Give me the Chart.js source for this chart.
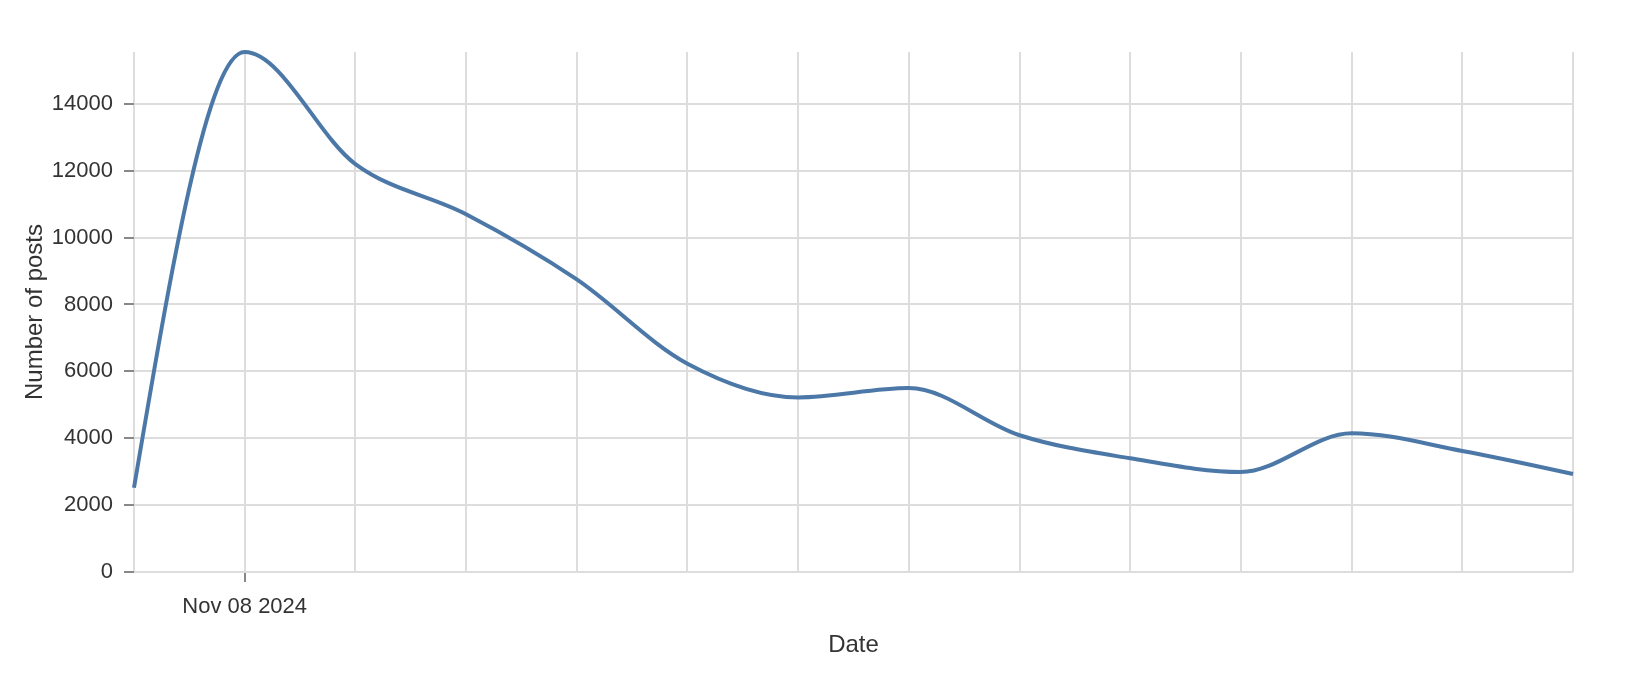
<!DOCTYPE html>
<html>
<head>
<meta charset="utf-8">
<script src="https://cdn.jsdelivr.net/npm/chart.js@4"></script>
<style>
    html, body { margin: 0; padding: 0; background: #fff; }
    #wrap { width: 1650px; height: 680px; }
</style>
</head>
<body>
<div id="wrap"><canvas id="postsChart" width="1650" height="680"></canvas></div>
<script>
// daily post counts
const dates = ['Nov 07 2024', 'Nov 08 2024', 'Nov 09 2024', 'Nov 10 2024', 'Nov 11 2024', 'Nov 12 2024', 'Nov 13 2024',
    'Nov 14 2024', 'Nov 15 2024', 'Nov 16 2024', 'Nov 17 2024', 'Nov 18 2024', 'Nov 19 2024', 'Nov 20 2024'];
const posts = [2520, 15550, 12200, 10700, 8750, 6230, 5220, 5500, 4090, 3400, 2990, 4150, 3620, 2930];
const shownDates = ['Nov 08 2024']; // only label the axis shows
const yTicks = [0, 2000, 4000, 6000, 8000, 10000, 12000, 14000];

const FONT = "'Liberation Sans', Arial, Helvetica, sans-serif";
const TEXT = '#333';

// d3-style monotoneX tangents, so the curve bends like the original
const monotoneX = {
    id: 'monotoneX',
    beforeDatasetDraw(chart, args) {
        const line = args.meta.dataset;
        const pts = args.meta.data;
        if (!line || pts.length < 3) return;
        line.updateControlPoints(chart.chartArea, 'x');
        const n = pts.length;
        const sec = [];
        for (let i = 0; i < n - 1; i++) sec.push((pts[i + 1].y - pts[i].y) / (pts[i + 1].x - pts[i].x));
        const t = new Array(n).fill(0);
        for (let i = 1; i < n - 1; i++) {
            const s0 = sec[i - 1], s1 = sec[i];
            const p = (s0 + s1) / 2;
            t[i] = (Math.sign(s0) + Math.sign(s1)) * Math.min(Math.abs(s0), Math.abs(s1), 0.5 * Math.abs(p)) || 0;
        }
        t[0] = (3 * sec[0] - t[1]) / 2;
        t[n - 1] = (3 * sec[n - 2] - t[n - 2]) / 2;
        for (let i = 0; i < n - 1; i++) {
            const dx = (pts[i + 1].x - pts[i].x) / 3;
            pts[i].cp2x = pts[i].x + dx;
            pts[i].cp2y = pts[i].y + dx * t[i];
            pts[i + 1].cp1x = pts[i + 1].x - dx;
            pts[i + 1].cp1y = pts[i + 1].y - dx * t[i + 1];
        }
        line._path = undefined;
    }
};

document.addEventListener("DOMContentLoaded", () => {
    const ctx = document.getElementById('postsChart');

    new Chart(ctx, {
        type: 'line',
        data: {
            labels: dates,
            datasets: [{
                label: 'Number of posts',
                data: posts,
                borderColor: '#4c78a8',
                borderWidth: 4,
                pointRadius: 0,
                cubicInterpolationMode: 'monotone',
                capBezierPoints: false,
                clip: false,
                fill: false
            }]
        },
        options: {
            responsive: false,
            animation: false,
            devicePixelRatio: 1,
            layout: { padding: { top: 52, right: 77, left: 0, bottom: 0 } },
            plugins: { legend: { display: false }, tooltip: { enabled: false } },
            scales: {
                x: {
                    offset: false,
                    afterFit: (s) => { s.height = 108; },
                    border: { display: false },
                    grid: {
                        color: '#ddd',
                        lineWidth: 2,
                        tickLength: 10,
                        tickWidth: 2,
                        tickColor: (c) => shownDates.includes(dates[c.index]) ? '#888' : 'rgba(0,0,0,0)'
                    },
                    ticks: {
                        autoSkip: false,
                        maxRotation: 0,
                        padding: 12,
                        color: TEXT,
                        font: { family: FONT, size: 22 },
                        callback: (v, i) => shownDates.includes(dates[i]) ? dates[i] : ''
                    },
                    title: {
                        display: true,
                        text: 'Date',
                        color: TEXT,
                        font: { family: FONT, size: 24 },
                        padding: { top: 0, bottom: 20 }
                    }
                },
                y: {
                    min: 0,
                    max: Math.max(...posts),
                    afterFit: (s) => { s.width = 134; },
                    afterBuildTicks: (s) => { s.ticks = yTicks.map(v => ({ value: v })); },
                    border: { display: false },
                    grid: {
                        color: '#ddd',
                        lineWidth: 2,
                        tickLength: 10,
                        tickWidth: 2,
                        tickColor: '#888'
                    },
                    ticks: {
                        padding: 11,
                        color: TEXT,
                        font: { family: FONT, size: 22 },
                        callback: (v) => String(v)
                    },
                    title: {
                        display: true,
                        text: 'Number of posts',
                        color: TEXT,
                        font: { family: FONT, size: 24 },
                        padding: { top: 21, bottom: 0 }
                    }
                }
            }
        },
        plugins: [monotoneX]
    });
});
</script>
</body>
</html>
